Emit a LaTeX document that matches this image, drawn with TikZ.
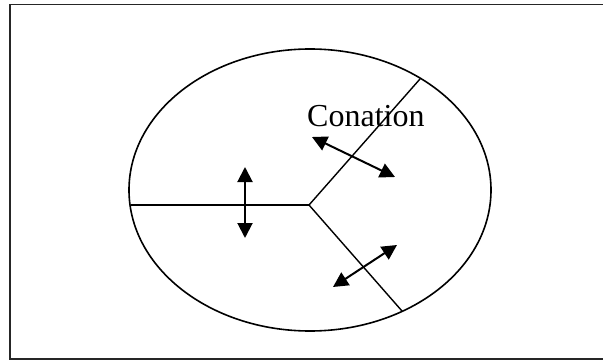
\documentclass[tikz,border=0pt]{standalone}
\usepackage{fontspec}
\setmainfont{Liberation Serif}
\usetikzlibrary{arrows.meta, positioning}

\begin{document}
\begin{tikzpicture}[
    x=1pt, y=-1pt,
    frame/.style={draw=black!85, line width=1.8pt},
    region/.style={draw, line width=1.6pt},
    divider/.style={draw, line width=1.4pt},
    arrow/.style={{Triangle[length=15pt,width=15pt]}-{Triangle[length=15pt,width=15pt]}, line width=2pt},
    label/.style={font=\fontsize{32}{38}\selectfont, inner sep=0pt}
]
\useasboundingbox (0,0) rectangle (603,361);

% Outer frame (right side runs off the page)
\draw[frame] (10,4.5) rectangle (612,359);

% The whole - one ellipse
\draw[region] (310,190) ellipse [x radius=181, y radius=141];

% Three parts meeting in the middle
\coordinate (hub) at (309,205);
\coordinate (west) at (131,205);
\coordinate (northeast) at (420,79);
\coordinate (southeast) at (402,311);
\draw[divider] (hub) -- (west);
\draw[divider] (hub) -- (northeast);
\draw[divider] (hub) -- (southeast);

% Label
\node[label, anchor=base west] (conation) at (307,127) {Conation};

% Interaction arrows across the borders
\coordinate (leftup) at (245,167);
\coordinate (leftdown) at (245,238);
\coordinate (topa) at (312,137);
\coordinate (topb) at (395,177);
\coordinate (lowa) at (397,245);
\coordinate (lowb) at (333,287);
\draw[arrow] (leftup) -- (leftdown);
\draw[arrow] (topa) -- (topb);
\draw[arrow] (lowa) -- (lowb);

\end{tikzpicture}
\end{document}
